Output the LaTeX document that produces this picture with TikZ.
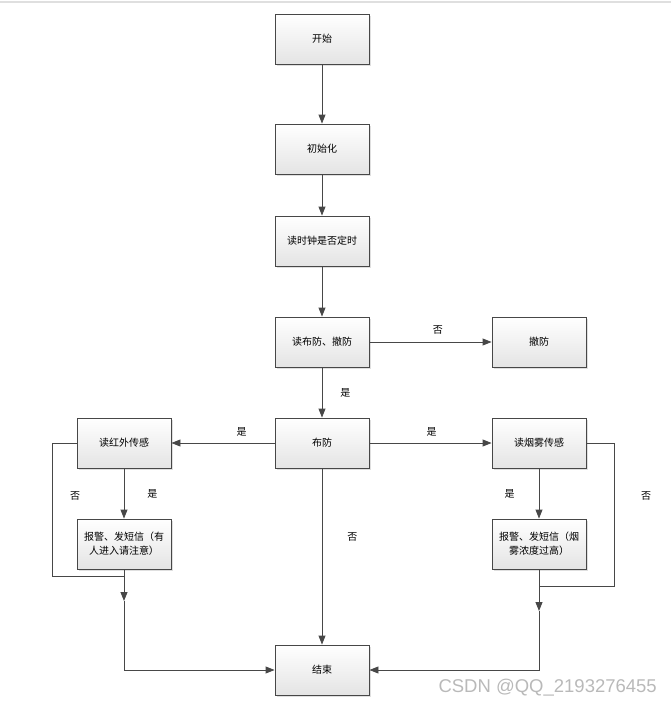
\documentclass[tikz,border=0pt]{standalone}
\usepackage{fontspec}
\newfontfamily\cjk{Noto Sans CJK SC}
\newfontfamily\wmfont{Liberation Sans}
\usetikzlibrary{arrows.meta,shadows}
\definecolor{edgegray}{HTML}{474747}
\definecolor{boxbot}{HTML}{E4E4E4}
\tikzset{
  procbox/.style={
    draw=edgegray,
    line width=0.9pt,
    minimum width=94pt,
    minimum height=50pt,
    top color=white,
    bottom color=boxbot,
    drop shadow={shadow xshift=1.5pt, shadow yshift=-1.5pt, opacity=0.25},
    font=\cjk\fontsize{10}{14}\selectfont,
    align=center,
    inner sep=2pt
  },
  flow/.style={
    draw=edgegray,
    line width=0.9pt,
    -{Triangle[length=9pt,width=7pt]}
  },
  loopline/.style={
    draw=edgegray,
    line width=0.9pt
  },
  yesno/.style={
    font=\cjk\fontsize{10}{12}\selectfont,
    inner sep=1pt
  }
}
\begin{document}
\begin{tikzpicture}[x=1pt,y=-1pt]
    \useasboundingbox (0,0) rectangle (671,707);
    \draw[gray!25, line width=1.5pt] (0,2) -- (671,2);

    % main column
    \node[procbox] (start) at (322,39) {开始};
    \node[procbox] (init) at (322,149) {初始化};
    \node[procbox] (clock) at (322,241) {读时钟是否定时};
    \node[procbox] (readarm) at (322,342) {读布防、撤防};
    \node[procbox] (disarm) at (539,342) {撤防};
    \node[procbox] (arm) at (322,443) {布防};
    \node[procbox] (ir) at (124,443) {读红外传感};
    \node[procbox] (smoke) at (539,443) {读烟雾传感};
    \node[procbox] (iralarm) at (124,544) {报警、发短信（有\\人进入请注意）};
    \node[procbox] (smokealarm) at (539,544) {报警、发短信（烟\\雾浓度过高）};
    \node[procbox] (end) at (322,670) {结束};

    \coordinate (irjoin) at (124,601);
    \coordinate (smokejoin) at (539,611);
    \coordinate (irloop) at (52,576);
    \coordinate (smokeloop) at (614,586);

    \draw[flow] (start) -- (init);
    \draw[flow] (init) -- (clock);
    \draw[flow] (clock) -- (readarm);
    \draw[flow] (readarm) -- node[yesno, pos=0.56, above=6pt] (nodisarm) {否} (disarm);
    \draw[flow] (readarm) -- node[yesno, pos=0.5, right=17pt] (yesarm) {是} (arm);
    \draw[flow] (arm) -- node[yesno, pos=0.32, above=5pt] (yesir) {是} (ir);
    \draw[flow] (arm) -- node[yesno, pos=0.51, above=5pt] (yessmoke) {是} (smoke);
    \draw[flow] (arm) -- node[yesno, pos=0.39, right=24pt] (noarm) {否} (end);

    % left branch
    \draw[flow] (ir) -- node[yesno, right=22pt] (yesiralarm) {是} (iralarm);
    \draw[loopline] (ir.west) -| (irloop) -- (irloop -| iralarm);
    \node[yesno] (noir) at (75,496) {否};
    \draw[flow] (iralarm) -- (irjoin);
    \draw[flow] (irjoin) |- (end);

    % right branch
    \draw[flow] (smoke) -- node[yesno, left=23pt] (yessmokealarm) {是} (smokealarm);
    \draw[loopline] (smoke.east) -| (smokeloop) -- (smokeloop -| smokealarm);
    \node[yesno] (nosmoke) at (646,496) {否};
    \draw[flow] (smokealarm) -- (smokejoin);
    \draw[flow] (smokejoin) |- (end);

    \node[font=\wmfont\fontsize{18.5}{18.5}\selectfont, text=gray!55, anchor=east, inner sep=0pt] (mark) at (657,688) {CSDN @QQ\_2193276455};
\end{tikzpicture}
\end{document}
